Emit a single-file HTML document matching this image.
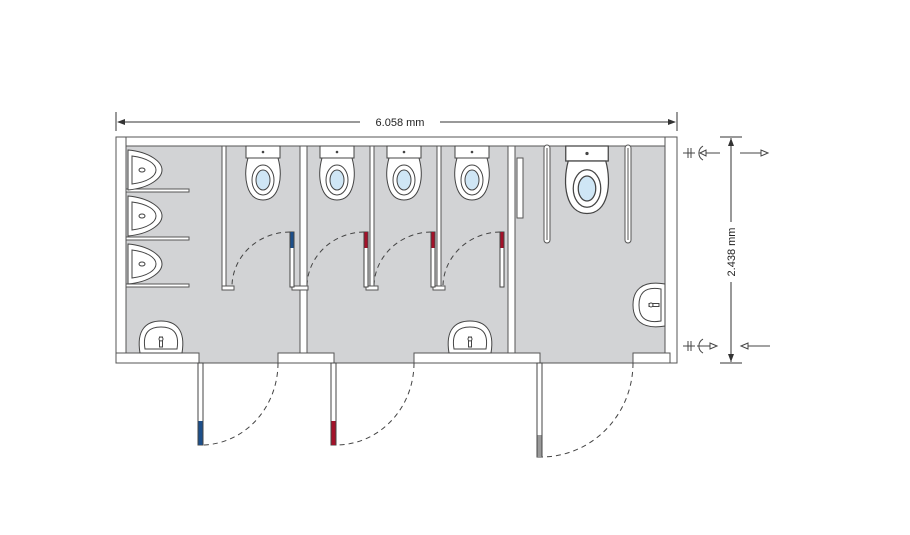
<!DOCTYPE html>
<html><head><style>body{margin:0;background:#fff}svg{display:block}</style></head>
<body>
<svg width="910" height="535" viewBox="0 0 910 535" xmlns="http://www.w3.org/2000/svg" font-family="Liberation Sans, sans-serif">
<defs>
<g id="wc">
 <rect x="-17" y="0" width="34" height="12" fill="#fff" stroke="#444" stroke-width="1"/>
 <circle cx="0" cy="6" r="1.3" fill="#444"/>
 <path d="M-15 12 C-20 30 -17 54 0 54 C17 54 20 30 15 12 Z" fill="#fff" stroke="#444"/>
 <ellipse cx="0" cy="34" rx="11" ry="15" fill="#fff" stroke="#444"/>
 <ellipse cx="0" cy="34" rx="7" ry="10" fill="#cfe6f5" stroke="#444"/>
</g>
<g id="ur">
 <path d="M0 0 C22 2 34 12 34 20 C34 28 22 38 0 40 Z" fill="#fff" stroke="#444"/>
 <path d="M4 6 C20 8 28 14 28 20 C28 26 20 32 4 34 Z" fill="#fff" stroke="#444"/>
 <ellipse cx="14" cy="20" rx="3" ry="2" fill="none" stroke="#444"/>
</g>
<g id="sink">
 <path d="M-21 30 C-25 6 -14 -2 0 -2 C14 -2 25 6 21 30 Z" fill="#fff" stroke="#444"/>
 <path d="M-16 26 C-19 8 -10 4 0 4 C10 4 19 8 16 26 Z" fill="#fff" stroke="#444"/>
 <rect x="-1.5" y="14" width="3" height="10" fill="#fff" stroke="#444"/>
 <circle cx="0" cy="16" r="2" fill="#fff" stroke="#444"/>
</g>
</defs>
<g stroke="#333" stroke-width="1" fill="#333">
 <line x1="116" y1="112" x2="116" y2="131"/>
 <line x1="677" y1="112" x2="677" y2="131"/>
 <line x1="118" y1="122" x2="360" y2="122"/>
 <line x1="440" y1="122" x2="675" y2="122"/>
 <path d="M117 122 l8 -3 v6 z M676 122 l-8 -3 v6 z" stroke="none"/>
 <line x1="720" y1="137" x2="742" y2="137"/>
 <line x1="720" y1="363" x2="742" y2="363"/>
 <line x1="731" y1="138" x2="731" y2="222"/>
 <line x1="731" y1="282" x2="731" y2="362"/>
 <path d="M731 138 l-3 8 h6 z M731 362 l-3 -8 h6 z" stroke="none"/>
</g>
<text x="400" y="126" font-size="11" text-anchor="middle" fill="#222">6.058 mm</text>
<text x="0" y="0" font-size="11" text-anchor="middle" fill="#222" transform="translate(735 252) rotate(-90)">2.438 mm</text>
<g stroke="#444" fill="none" stroke-width="1">
 <g transform="translate(0 153)">
  <line x1="683" y1="0" x2="695" y2="0"/><line x1="688" y1="-5" x2="688" y2="5"/><line x1="691" y1="-5" x2="691" y2="5"/>
  <path d="M703 -7 A8 8 0 0 0 703 7"/>
  <line x1="700" y1="0" x2="720" y2="0"/><path d="M700 0 l6 -3 v6 z" fill="#fff"/>
  <line x1="740" y1="0" x2="768" y2="0"/><path d="M768 0 l-7 -3 v6 z" fill="#fff"/>
 </g>
 <g transform="translate(0 346)">
  <line x1="683" y1="0" x2="695" y2="0"/><line x1="688" y1="-5" x2="688" y2="5"/><line x1="691" y1="-5" x2="691" y2="5"/>
  <path d="M703 -7 A8 8 0 0 0 703 7"/>
  <line x1="697" y1="0" x2="716" y2="0"/><path d="M717 0 l-7 -3 v6 z" fill="#fff"/>
  <line x1="745" y1="0" x2="770" y2="0"/><path d="M741 0 l7 -3 v6 z" fill="#fff"/>
 </g>
</g>
<rect x="116" y="137" width="561" height="226" fill="#d2d3d5" stroke="#555"/>
<g fill="#fff" stroke="#555" stroke-width="1">
 <rect x="116" y="137" width="556" height="9"/>
 <rect x="665" y="137" width="12" height="226"/>
 <rect x="116" y="137" width="10" height="226"/>
 <rect x="116" y="353" width="83" height="10"/>
 <rect x="278" y="353" width="56" height="10"/>
 <rect x="414" y="353" width="126" height="10"/>
 <rect x="633" y="353" width="37" height="10"/>
 <rect x="300" y="146" width="7" height="207"/>
 <rect x="508" y="146" width="7" height="207"/>
 <rect x="222" y="146" width="4" height="141"/>
 <rect x="370" y="146" width="4" height="141"/>
 <rect x="437" y="146" width="4" height="141"/>
 <rect x="126" y="189" width="63" height="3"/>
 <rect x="126" y="237" width="63" height="3"/>
 <rect x="126" y="284" width="63" height="3"/>
 <rect x="222" y="286" width="12" height="4"/>
 <rect x="366" y="286" width="12" height="4"/>
 <rect x="433" y="286" width="12" height="4"/>
 <rect x="292" y="286" width="16" height="4"/>
 <rect x="517" y="158" width="6" height="60"/>
</g>
<use href="#ur" x="128" y="150"/>
<use href="#ur" x="128" y="196"/>
<use href="#ur" x="128" y="244"/>
<use href="#wc" x="263" y="146"/>
<use href="#wc" x="337" y="146"/>
<use href="#wc" x="404" y="146"/>
<use href="#wc" x="472" y="146"/>
<g transform="translate(587 146) scale(1.25)"><use href="#wc"/></g>
<use href="#sink" x="161" y="323"/>
<use href="#sink" x="470" y="323"/>
<g transform="translate(635 305) rotate(-90)"><use href="#sink"/></g>
<g fill="none" stroke="#555" stroke-width="7" stroke-linecap="round"><path d="M547 148 V240 M628 148 V240"/></g>
<g fill="none" stroke="#fff" stroke-width="5" stroke-linecap="round"><path d="M547 148 V240 M628 148 V240"/></g>
<g fill="none" stroke="#555" stroke-width="1"><path d="M547 148 V240 M628 148 V240"/></g>
<g stroke="#444" fill="#fff">
 <rect x="290" y="232" width="4" height="55"/><rect x="364" y="232" width="4" height="55"/>
 <rect x="431" y="232" width="4" height="55"/><rect x="500" y="232" width="4" height="55"/>
</g>
<rect x="290.5" y="232" width="3" height="16" fill="#1d4f8a"/>
<rect x="364.5" y="232" width="3" height="16" fill="#a3122a"/>
<rect x="431.5" y="232" width="3" height="16" fill="#a3122a"/>
<rect x="500.5" y="232" width="3" height="16" fill="#a3122a"/>
<g fill="none" stroke="#444" stroke-dasharray="5 4">
 <path d="M290 232 A58 55 0 0 0 232 285"/>
 <path d="M364 232 A58 55 0 0 0 307 285"/>
 <path d="M431 232 A58 55 0 0 0 374 285"/>
 <path d="M500 232 A58 55 0 0 0 443 285"/>
 <path d="M278 363 A77 82 0 0 1 203 445"/>
 <path d="M414 363 A78 82 0 0 1 336 445"/>
 <path d="M633 363 A92 94 0 0 1 541 457"/>
</g>
<g stroke="#444" fill="#fff">
 <rect x="198" y="363" width="5" height="82"/>
 <rect x="331" y="363" width="5" height="82"/>
 <rect x="537" y="363" width="5" height="94"/>
</g>
<rect x="198.5" y="421" width="4" height="24" fill="#1d4f8a"/>
<rect x="331.5" y="421" width="4" height="24" fill="#a3122a"/>
<rect x="537.5" y="435" width="4" height="22" fill="#999"/>
</svg>
</body></html>
